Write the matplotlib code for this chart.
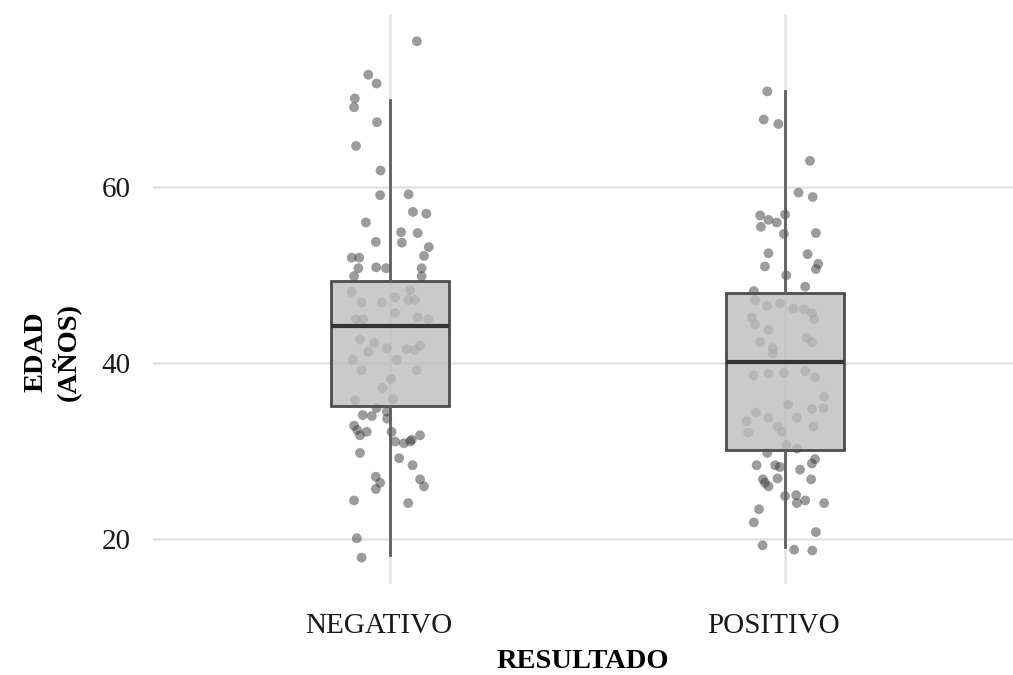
import matplotlib
matplotlib.use("Agg")
import matplotlib.pyplot as plt
import matplotlib.transforms as mtransforms
import numpy as np

plt.rcParams['font.family'] = ['Liberation Serif', 'DejaVu Serif']

grupos = ['NEGATIVO', 'POSITIVO']

# box statistics
q1 = [35.1, 30.1]
mediana = [44.2, 40.1]
q3 = [49.4, 48.0]
bigote_inf = [18.2, 19.1]
bigote_sup = [69.9, 70.9]

# jittered points: horizontal offset from the category and age
neg_dx = [0.068, -0.055, -0.034, -0.089, -0.091, -0.033, -0.086, -0.024, -0.025, 0.047,
          0.058, 0.092, -0.061, 0.028, 0.070, 0.030, -0.036, 0.098, 0.086, -0.097,
          -0.078, -0.080, -0.035, -0.010, 0.080, -0.091, 0.080,
          -0.097, -0.072, -0.021, 0.013, 0.046, 0.063, 0.051, 0.013, -0.086, -0.068,
          0.070, 0.097, -0.076, -0.040, -0.008, -0.055, 0.042, 0.063, 0.076, 0.017,
          -0.094, -0.072, 0.068, 0.002, -0.019, -0.089, 0.008,
          -0.034, -0.069, -0.046, -0.008, -0.007, -0.091, -0.083, -0.076, -0.059, 0.004,
          0.013, 0.035, 0.051, 0.055, 0.076, -0.076, 0.023, 0.057, -0.036, -0.025,
          -0.036, 0.076, 0.086, -0.091, 0.046, -0.084, -0.072]
neg_edad = [76.6, 72.8, 71.8, 70.1, 69.1, 67.4, 64.7, 61.9, 59.1, 59.2,
            57.2, 57.0, 56.0, 54.9, 54.8, 53.7, 53.8, 53.2, 52.2, 52.0,
            52.0, 50.8, 50.9, 50.8, 50.8, 49.9, 49.9,
            48.1, 46.9, 46.9, 47.5, 47.2, 47.2, 48.3, 45.7, 45.0, 45.0,
            45.2, 45.0, 42.7, 42.3, 41.7, 41.3, 41.6, 41.5, 42.0, 40.4,
            40.4, 39.2, 39.2, 38.2, 37.2, 35.8, 35.9,
            34.9, 34.1, 34.0, 34.5, 33.7, 32.9, 32.4, 31.8, 32.2, 32.2,
            31.1, 30.9, 31.1, 31.3, 31.8, 29.8, 29.2, 28.4, 27.1, 26.4,
            25.7, 26.8, 26.0, 24.4, 24.1, 20.1, 17.9]

pos_dx = [-0.045, -0.054, -0.017, 0.063, 0.034, 0.070, -0.063, -0.042, -0.021, 0.000,
          -0.061, -0.003, 0.078, -0.042, 0.057, -0.051, 0.078, 0.084, 0.003, -0.079,
          0.051, -0.076, -0.046, -0.013, 0.021, 0.048, 0.068, 0.074, -0.084, -0.076,
          -0.042, -0.063, 0.055, 0.068, -0.031, -0.031, -0.080, -0.042, -0.003, 0.051,
          0.076, 0.099, 0.008, 0.097, 0.068, -0.073, -0.042, 0.030, -0.097, -0.019,
          -0.008, 0.072, -0.093, 0.003, 0.030,
          -0.045, -0.072, -0.025, -0.013, 0.068, 0.076, 0.038, 0.066, -0.056, -0.051,
          -0.042, -0.019, 0.000, 0.028, 0.030, 0.051, 0.099, -0.066, -0.079, 0.078,
          -0.057, 0.023, 0.069]
pos_edad = [70.9, 67.7, 67.2, 63.0, 59.4, 58.9, 56.8, 56.3, 56.0, 56.9,
            55.5, 54.7, 54.8, 52.5, 52.4, 51.0, 50.7, 51.3, 50.0, 48.2,
            48.7, 47.2, 46.5, 46.8, 46.2, 46.1, 45.7, 45.0, 45.2, 44.4,
            43.8, 42.4, 42.9, 42.4, 41.7, 41.1, 38.6, 38.8, 38.9, 39.1,
            38.4, 36.2, 35.3, 34.9, 34.8, 34.4, 33.8, 33.8, 33.4, 32.8,
            32.2, 32.8, 32.1, 30.7, 30.3,
            29.8, 28.4, 28.4, 28.2, 28.6, 29.1, 27.9, 26.8, 26.8, 26.4,
            26.0, 26.9, 24.9, 25.0, 24.1, 24.4, 24.1, 23.4, 21.9, 20.8,
            19.3, 18.8, 18.7]

fig = plt.figure(figsize=(10.13, 6.75), dpi=100)
ax = fig.add_axes([153/1013, 1 - 584/675, 1 - 153/1013, (584 - 14)/675])

# gridlines only at the majors
ax.set_yticks([20, 40, 60])
ax.set_xticks([1, 2])
ax.set_xticklabels(grupos)
ax.grid(True, color='#e3e3e3', linewidth=1.8, zorder=0)
ax.set_axisbelow(True)

pos = np.arange(1, len(grupos) + 1)
for p, dx, edad in zip(pos, [neg_dx, pos_dx], [neg_edad, pos_edad]):
    ax.scatter(p + np.array(dx), edad, s=50, color='#3a3a3a', alpha=0.5,
               edgecolors='none', zorder=2)

stats = [dict(med=mediana[i], q1=q1[i], q3=q3[i], whislo=bigote_inf[i],
              whishi=bigote_sup[i], fliers=[]) for i in range(len(grupos))]
ax.bxp(stats, positions=pos, widths=0.3, showcaps=False, showfliers=False,
       patch_artist=True, manage_ticks=False, zorder=3,
       boxprops=dict(facecolor=(0.74, 0.74, 0.74, 0.8), edgecolor='#4d4d4d', linewidth=2),
       whiskerprops=dict(color='#5f5f5f', linewidth=2),
       medianprops=dict(color='#333333', linewidth=3))

ax.set_xlim(0.4, 2.577)
ax.set_ylim(14.9, 79.7)

for s in ax.spines.values():
    s.set_visible(False)
ax.tick_params(length=0, labelsize=21, labelcolor='#1a1a1a')
ax.tick_params(axis='y', pad=16)
ax.tick_params(axis='x', pad=21)

# category labels sit a little left of their gridlines in the original
shift = mtransforms.ScaledTranslation(-11/100, 0, fig.dpi_scale_trans)
for lab in ax.get_xticklabels():
    lab.set_transform(lab.get_transform() + shift)

fig.text(52/1013, 1 - 352/675, 'EDAD\n(AÑOS)', rotation=90, ha='center', va='center',
         fontsize=20.5, fontweight='bold', linespacing=1.1)
fig.text(583/1013, 1 - 662/675, 'RESULTADO', ha='center', va='center',
         fontsize=20.5, fontweight='bold')

fig.savefig('out.png', dpi=100, facecolor='white')
